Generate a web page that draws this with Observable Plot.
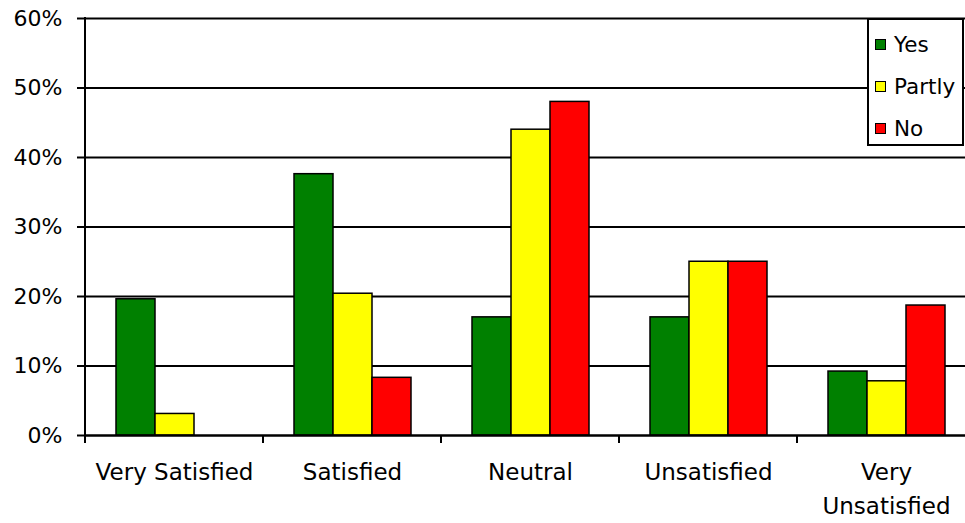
<!DOCTYPE html>
<html>
<head>
<meta charset="utf-8">
<script src="https://cdn.jsdelivr.net/npm/d3@7"></script>
<script src="https://cdn.jsdelivr.net/npm/@observablehq/plot@0.6"></script>
<style>
  html, body { margin: 0; padding: 0; background: white; overflow: hidden; }
  #wrap { position: relative; width: 965px; height: 523px; overflow: hidden; font-family: "DejaVu Sans", Verdana, sans-serif; }
  #chart svg { max-width: none !important; display: block; }
  #legend { position: absolute; left: 867px; top: 18px; width: 97px; height: 128px; border: 2px solid black; background: white; box-sizing: border-box; }
  .item { position: absolute; left: 6px; display: flex; align-items: center; font-size: 21.5px; line-height: 23px; }
  .sw { width: 9px; height: 9px; border: 1.5px solid black; margin-right: 8px; }
</style>
</head>
<body>
<div id="wrap"><div id="chart"></div><div id="legend"></div></div>
<script>
const categories = ["Very Satisfied", "Satisfied", "Neutral", "Unsatisfied", "Very Unsatisfied"];
const categoryLabels = ["Very Satisfied", "Satisfied", "Neutral", "Unsatisfied", "Very\nUnsatisfied"];
const series = ["Yes", "Partly", "No"];
const seriesColors = ["#008000", "#ffff00", "#ff0000"];
const yesValues = [19.6, 37.6, 17.0, 17.0, 9.2];
const partlyValues = [3.1, 20.4, 44.0, 25.0, 7.8];
const noValues = [0, 8.3, 48.0, 25.0, 18.7];
const yTicks = [0, 10, 20, 30, 40, 50, 60];

const valuesBySeries = [yesValues, partlyValues, noValues];
const rows = [];
categories.forEach((c, i) => series.forEach((s, j) => rows.push({category: c, series: s, value: valuesBySeries[j][i]})));

const chart = Plot.plot({
  width: 975,
  height: 523,
  marginLeft: 85,
  marginRight: 0,
  marginTop: 18,
  marginBottom: 88,
  style: {fontFamily: "DejaVu Sans, Verdana, sans-serif", fontSize: "22px", background: "white", color: "black", maxWidth: "none"},
  fx: {domain: categories, padding: 0, label: null},
  x: {domain: series, paddingInner: 0, paddingOuter: 0.78, axis: null},
  y: {domain: [0, 60], label: null},
  color: {domain: series, range: seriesColors},
  marks: [
    Plot.gridY(yTicks, {stroke: "black", strokeOpacity: 1, strokeWidth: 2}),
    Plot.barY(rows.filter(d => d.value > 0), {fx: "category", x: "series", y: "value", fill: "series", stroke: "black", strokeWidth: 1.5}),
    Plot.ruleY([0], {stroke: "black", strokeWidth: 2}),
    Plot.axisY(yTicks, {tickSize: 8, tickPadding: 15, tickFormat: d => d + "%", strokeWidth: 2, strokeOpacity: 1, label: null, fontSize: 22}),
    Plot.axisFx({anchor: "bottom", tickSize: 0, tickPadding: 20, tickFormat: d => categoryLabels[categories.indexOf(d)], lineHeight: 1.5, label: null, fontSize: 23})
  ]
});
document.getElementById("chart").appendChild(chart);

// y-axis line and category boundary ticks from Plot's own scales
const fx = chart.scale("fx");
const y = chart.scale("y");
const svg = d3.select(chart);
const y0 = y.apply(0), yTop = y.apply(60);
const bw = fx.bandwidth != null ? fx.bandwidth : (fx.apply(categories[1]) - fx.apply(categories[0]));
const bounds = categories.map(c => fx.apply(c)).concat([fx.apply(categories[categories.length - 1]) + bw]);
const g = svg.append("g").attr("stroke", "black").attr("stroke-width", 2);
g.append("line").attr("x1", bounds[0]).attr("x2", bounds[0]).attr("y1", yTop - 1).attr("y2", y0 + 8);
bounds.forEach(b => g.append("line").attr("x1", b).attr("x2", b).attr("y1", y0).attr("y2", y0 + 8));

// legend
const legend = document.getElementById("legend");
series.forEach((s, i) => {
  const it = document.createElement("div");
  it.className = "item";
  it.style.top = (13 + i * 42) + "px";
  const sw = document.createElement("div");
  sw.className = "sw";
  sw.style.background = chart.scale("color").apply(s);
  const t = document.createElement("span");
  t.textContent = s;
  it.appendChild(sw); it.appendChild(t);
  legend.appendChild(it);
});
</script>
</body>
</html>
